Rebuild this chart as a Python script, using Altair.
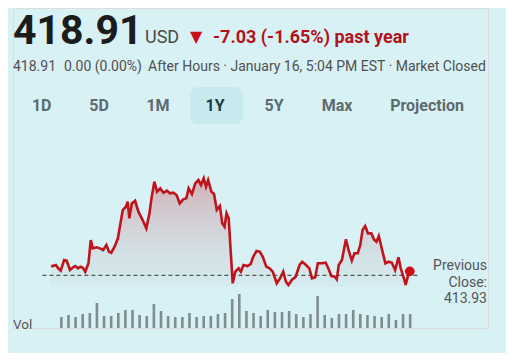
import altair as alt
import pandas as pd

# ---------------- data ----------------
price_day = [0, 1.1, 3.4, 5, 6.8, 9.1, 10.9, 12, 13.2, 15.4,
             17, 18.8, 20.5, 22.2, 23.9, 26.1, 27.7, 29.1, 31.8, 34.1,
             36.3, 38.6, 40.4, 42, 44.3, 46.6, 48.4, 50, 52.2, 53.4,
             54.6, 56.3, 58.6, 60.9, 63.6, 66.4, 68.6, 70, 72, 73.9,
             76.1, 78.4, 80.7, 82.9, 85.2, 87.5, 89.7, 92.1, 94.3, 95.9,
             98.2, 100.5, 102.7, 104.5, 106.4, 108, 109.5, 111.8, 113.6, 115.5,
             117.7, 119.3, 120.9, 122.3, 123.8, 125, 126.6, 128.4, 130.7, 132.3,
             134.1, 136.8, 139.1, 140.9, 143.2, 145.5, 147.7, 150, 152.3, 154.5,
             157.3, 159.6, 161.8, 163.7, 165.4, 167.8, 170.5, 173.2, 175, 177.7,
             180, 181.8, 184.1, 185.9, 188.6, 191.4, 193.2, 195.4, 197.8, 199.1,
             200.5, 202.7, 205.5, 207.3, 209.6, 211.4, 213.7, 215.5, 217.1, 218.9,
             220.9, 223.2, 225, 226.8, 228.4, 230.7, 233, 235.3, 237.5, 239.8,
             242.1, 243.7, 245.9, 247.1, 248.9, 250]
price_val = [425.94, 425.5, 426.8, 422.7, 419.7, 432.9, 432.1, 426.8, 420.6, 423.9,
             425.5, 422.7, 424.7, 423.4, 418.5, 428.9, 457.6, 447.3, 448.6, 447.3,
             445.3, 451.4, 443.2, 441.9, 449.3, 459.7, 478.2, 494.6, 498.6, 504.8,
             484.3, 502.8, 506.0, 492.5, 483.1, 472.0, 490.5, 509.0, 529.5, 517.1,
             521.3, 515.9, 518.4, 515.2, 515.9, 513.1, 502.8, 507.8, 509.0, 521.3,
             514.3, 527.5, 531.6, 525.4, 533.7, 523.3, 531.6, 517.1, 514.3, 494.6,
             499.5, 478.2, 474.0, 490.5, 484.3, 449.3, 404.2, 418.5, 422.7, 418.5,
             426.8, 425.5, 428.0, 437.0, 444.0, 443.2, 436.3, 424.7, 422.7, 418.5,
             404.2, 410.4, 418.5, 406.2, 402.1, 408.3, 412.3, 426.8, 430.8, 426.8,
             422.7, 410.4, 411.6, 428.9, 428.9, 429.6, 422.7, 413.2, 412.3, 409.1,
             426.8, 432.9, 458.4, 445.3, 432.1, 441.2, 441.2, 451.4, 469.9, 474.8,
             465.8, 465.8, 458.4, 455.5, 462.5, 445.3, 428.9, 430.8, 429.6, 420.6,
             436.3, 422.7, 410.4, 402.1, 414.4, 418.91]
vol_millions = [22, 26, 22, 28, 30, 50, 24, 24, 30, 36, 36, 26, 24, 48, 34, 24, 22, 22, 30, 22,
                24, 24, 28, 30, 58, 68, 34, 30, 24, 36, 32, 32, 34, 28, 22, 28, 64, 26, 20, 28,
                28, 36, 28, 26, 24, 22, 28, 16, 28, 28]
prev_close = 413.93
y_ticks = [400, 450, 500, 550]
x_tick_days = [0, 50, 99, 149, 199, 248]
x_tick_labels = ["Jan", "Mar", "Jun", "Aug", "Oct", "Jan"]
buttons = ["1D", "5D", "1M", "1Y", "5Y", "Max", "Projection"]
selected_button = "1Y"
head_price = "418.91"
head_currency = "USD"
head_change = "-7.03 (-1.65%) past year"
sub_price = "418.91"
sub_change = "0.00 (0.00%)"
sub_info = "After Hours · January 16, 5:04 PM EST · Market Closed"

# ---------------- layout / style ----------------
BG = "#d8f1f5"
W, H = 475, 320
XDOM = [-23, 301]
YDOM = [349.1, 743.7]
VOL_MAX = 640  # volume that would fill the whole plot height
RED = "#c0141c"

price_df = pd.DataFrame({"day": price_day, "price": price_val})
vol_df = pd.DataFrame({"day": [round(7.2 + 4.96 * i, 2) for i in range(len(vol_millions))],
                       "vol": vol_millions})
prev_df = pd.DataFrame({"prev": [prev_close]})
one = pd.DataFrame({"k": [0]})

xscale = alt.Scale(domain=XDOM, nice=False, zero=False)
yscale = alt.Scale(domain=YDOM, nice=False, zero=False)

label_expr = " : ".join(f"datum.value == {v} ? '{l}'" for v, l in zip(x_tick_days, x_tick_labels)) + " : ''"


def txt(s, x, y, size, color, weight="normal", align="left", baseline="alphabetic", font="Roboto"):
    return alt.Chart(one).mark_text(
        text=s, align=align, baseline=baseline, fontSize=size, fontWeight=weight,
        color=color, font=font
    ).encode(x=alt.value(x), y=alt.value(y))


# volume bars, mapped onto the shared vertical scale
vol = alt.Chart(vol_df).transform_calculate(
    vtop=f"{YDOM[0]} + datum.vol * {(YDOM[1] - YDOM[0]) / VOL_MAX}"
).mark_bar(size=2.6, color="#7f8d90").encode(
    x=alt.X("day:Q", scale=xscale, axis=None),
    y=alt.Y("vtop:Q", scale=yscale, axis=None),
    y2=alt.datum(YDOM[0]),
)

# price panel
area = alt.Chart(price_df).mark_area(
    color=alt.Gradient(
        gradient="linear",
        stops=[alt.GradientStop(color="rgba(196,40,52,0.32)", offset=0),
               alt.GradientStop(color="rgba(180,185,190,0.10)", offset=1)],
        x1=1, x2=1, y1=0, y2=1),
).encode(
    x=alt.X("day:Q", scale=xscale,
            axis=alt.Axis(values=x_tick_days, labelExpr=label_expr, title=None, grid=False,
                          domainColor="#a9babd", domainWidth=2, tickColor="#a9babd",
                          tickSize=6, tickWidth=1.5, labelFontSize=13.5, labelColor="#444444",
                          labelFont="Roboto", labelPadding=4, labelFlush=False)),
    y=alt.Y("price:Q", scale=yscale,
            axis=alt.Axis(values=y_ticks, title=None, domain=False, ticks=False, tickSize=0,
                          grid=True, gridColor="#c2dce1", gridWidth=1.5,
                          labelAlign="left", labelPadding=0, labelOffset=-6,
                          labelBaseline="alphabetic", labelFontSize=13, labelColor="#555555",
                          labelFont="Roboto")),
    y2=alt.datum(400),
)

rule = alt.Chart(prev_df).mark_rule(color="#555555", strokeDash=[4, 3], strokeWidth=1.2).encode(
    y=alt.Y("prev:Q", scale=yscale),
    x=alt.datum(-6),
    x2=alt.datum(256),
)

line = alt.Chart(price_df).mark_line(color=RED, strokeWidth=2.6).encode(
    x=alt.X("day:Q", scale=xscale),
    y=alt.Y("price:Q", scale=yscale),
)

dot = alt.Chart(price_df.tail(1)).mark_circle(color="#cc1016", size=95, opacity=1).encode(
    x=alt.X("day:Q", scale=xscale),
    y=alt.Y("price:Q", scale=yscale),
)

# header
btn_x = [28.7, 86, 145, 202, 261, 324, 414]
btn_bg = alt.Chart(one).mark_rect(color="#c8e9ee", cornerRadius=8).encode(
    x=alt.value(177), x2=alt.value(230), y=alt.value(79), y2=alt.value(116))
btn_layers = [txt(b, bx, 98, 16, "#1d3d44" if b == selected_button else "#5d6b6f",
                  weight="bold", align="center", baseline="middle")
              for b, bx in zip(buttons, btn_x)]

texts = [
    txt(head_price, 0, 36, 41, "#1c1c1c", weight="bold"),
    txt(head_currency, 132, 35, 18, "#4a4a4a"),
    txt("▼", 177, 34, 16, "#c8101e", font="DejaVu Sans"),
    txt(head_change, 200, 35, 18, "#b3111b", weight="bold"),
    txt(sub_price, 0, 63, 14, "#505050"),
    txt(sub_change, 51, 63, 14, "#505050"),
    txt(sub_info, 135, 63, 14, "#505050"),
    btn_bg,
    *btn_layers,
    txt("Vol", 0, 320.5, 13.5, "#555555"),
    txt("Previous", 474, 262, 14, "#555555", align="right"),
    txt("Close:", 474, 278.7, 14, "#555555", align="right"),
    txt(f"{prev_close:.2f}", 474, 295, 14, "#555555", align="right"),
]

chart = alt.layer(area, vol, rule, line, dot, *texts).properties(
    width=W, height=H,
    padding={"left": 5, "top": 0, "right": 18, "bottom": 25},
    autosize=alt.AutoSizeParams(type="none"),
    background=BG,
).configure_view(stroke=None).configure(font="Roboto")

chart.save("out.html", embed_options={"renderer": "svg", "actions": False})
